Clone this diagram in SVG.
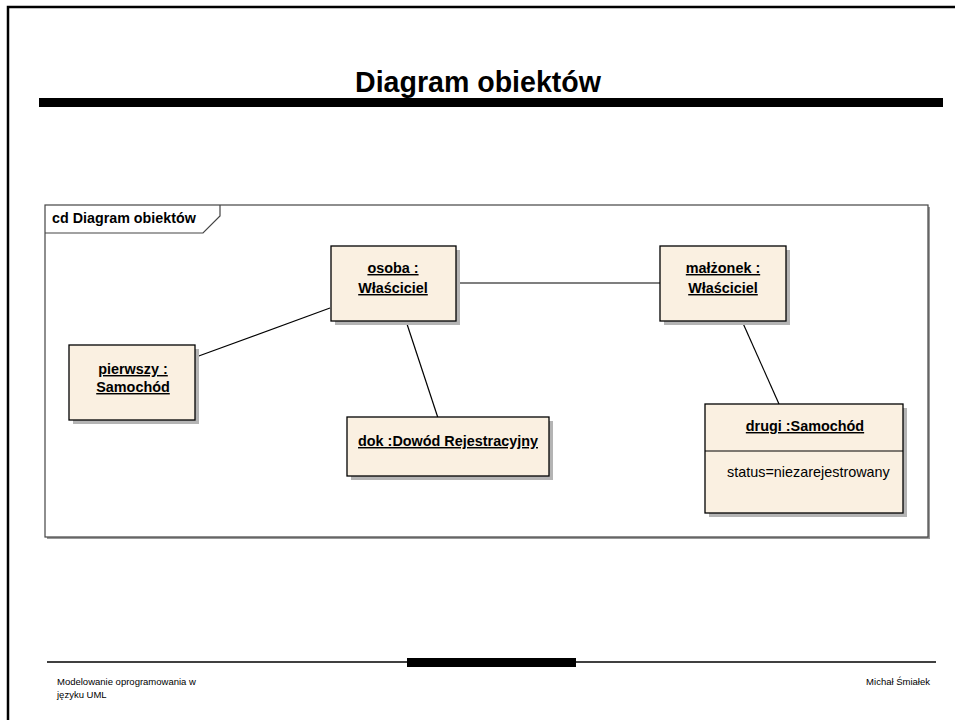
<svg xmlns="http://www.w3.org/2000/svg" width="955" height="720" viewBox="0 0 955 720">
  <style>
    .page { stroke: #000; stroke-width: 2.5; fill: none; }
    .title { font-family: "Liberation Sans", Arial, sans-serif; font-weight: bold; font-size: 29px; fill: #000; }
    .foot { font-family: "Liberation Sans", Arial, sans-serif; font-size: 9.5px; fill: #000; }
    .frame { fill: #fff; stroke: #444; stroke-width: 1.2; }
    .frame-label { font-family: "Liberation Sans", Arial, sans-serif; font-weight: bold; font-size: 14.3px; fill: #000; }
    .obj { fill: #faf0e1; stroke: #000; stroke-width: 1.3; }
    .shadow { fill: #b4b4b4; }
    .name { font-family: "Liberation Sans", Arial, sans-serif; font-weight: bold; font-size: 14.4px; fill: #000; text-anchor: middle; text-decoration: underline; }
    .attr { font-family: "Liberation Sans", Arial, sans-serif; font-size: 14.4px; fill: #000; }
    .link { stroke: #000; stroke-width: 1.2; fill: none; }
  </style>

  <rect x="0" y="0" width="955" height="720" fill="#fff"/>

  <!-- slide border -->
  <path class="page" d="M8,720 V7 H955"/>

  <!-- slide title -->
  <text class="title" x="478" y="92" text-anchor="middle" textLength="246" lengthAdjust="spacingAndGlyphs">Diagram obiektów</text>
  <rect x="39" y="98" width="904" height="9" fill="#000"/>

  <!-- diagram frame -->
  <g id="frame">
    <rect x="47" y="207" width="883" height="332" fill="#999"/>
    <rect class="frame" x="45" y="205" width="883" height="332"/>
    <path d="M45,233 H203 L220,216 V205" fill="none" stroke="#444" stroke-width="1.2"/>
    <text class="frame-label" x="52" y="223">cd Diagram obiektów</text>
  </g>

  <!-- links between objects -->
  <g id="connectors">
    <line class="link" x1="330" y1="308" x2="196" y2="357"/>
    <line class="link" x1="406" y1="321" x2="438" y2="418"/>
    <line class="link" x1="456" y1="283" x2="660" y2="283"/>
    <line class="link" x1="742" y1="321" x2="779" y2="404"/>
  </g>

  <!-- objects -->
  <g id="osoba">
    <rect class="shadow" x="335" y="250" width="125" height="75"/>
    <rect class="obj" x="331" y="246" width="125" height="75"/>
    <text class="name" x="393" y="273">osoba :</text>
    <text class="name" x="393" y="293">Właściciel</text>
  </g>

  <g id="malzonek">
    <rect class="shadow" x="664" y="250" width="126" height="75"/>
    <rect class="obj" x="660" y="246" width="126" height="75"/>
    <text class="name" x="723" y="273">małżonek :</text>
    <text class="name" x="723" y="293">Właściciel</text>
  </g>

  <g id="pierwszy">
    <rect class="shadow" x="73" y="349" width="126" height="75"/>
    <rect class="obj" x="69" y="345" width="126" height="75"/>
    <text class="name" x="133" y="374">pierwszy :</text>
    <text class="name" x="133" y="392">Samochód</text>
  </g>

  <g id="dok">
    <rect class="shadow" x="351" y="421" width="202" height="59"/>
    <rect class="obj" x="347" y="417" width="202" height="59"/>
    <text class="name" x="448" y="446">dok :Dowód Rejestracyjny</text>
  </g>

  <g id="drugi">
    <rect class="shadow" x="709" y="408" width="198" height="109"/>
    <rect class="obj" x="705" y="404" width="198" height="109"/>
    <line x1="705" y1="451" x2="903" y2="451" stroke="#000" stroke-width="1"/>
    <text class="name" x="805" y="431">drugi :Samochód</text>
    <text class="attr" x="727" y="477">status=niezarejestrowany</text>
  </g>

  <!-- footer -->
  <line x1="47" y1="662" x2="936" y2="662" stroke="#000" stroke-width="1.5"/>
  <rect x="407" y="658" width="169" height="9" fill="#000"/>
  <text class="foot" x="57" y="685">Modelowanie oprogramowania w</text>
  <text class="foot" x="57" y="698">języku UML</text>
  <text class="foot" x="930" y="685" text-anchor="end">Michał Śmiałek</text>
</svg>
